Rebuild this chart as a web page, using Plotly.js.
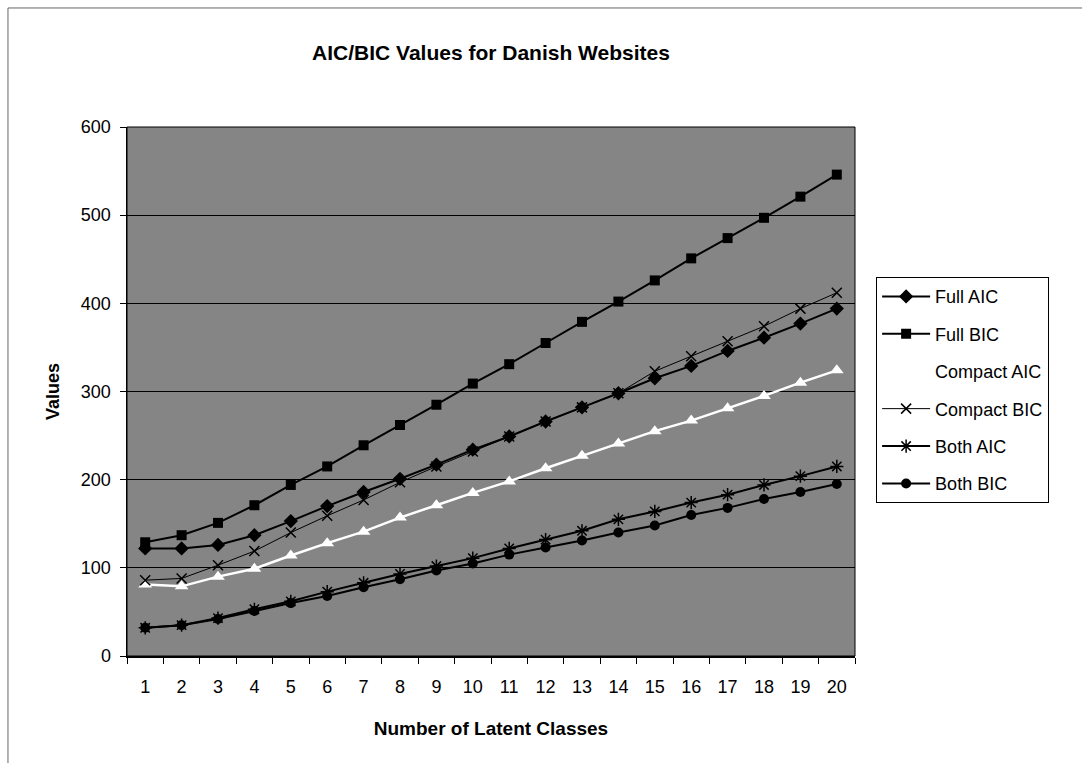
<!DOCTYPE html>
<html>
<head>
<meta charset="utf-8">
<script src="https://cdn.plot.ly/plotly-3.0.1.min.js"></script>
<style>
html,body{margin:0;padding:0;background:#fff;}
#chart{width:1082px;height:763px;}
</style>
</head>
<body>
<div id="chart"></div>
<script>
const classes = ["1","2","3","4","5","6","7","8","9","10","11","12","13","14","15","16","17","18","19","20"];
const fullAIC    = [122,122,126,137,153,170,186,201,217,234,249,266,282,298,315,329,346,361,377,394];
const fullBIC    = [129,137,151,171,194,215,239,262,285,309,331,355,379,402,426,451,474,497,521,546];
const compactAIC = [81,79,90,99,114,128,141,157,171,185,198,213,227,241,255,267,281,295,310,324];
const compactBIC = [86,88,103,119,140,159,177,197,215,232,249,266,282,298,323,340,357,374,394,412];
const bothAIC    = [32,35,43,53,62,73,83,93,102,111,122,132,142,155,164,174,183,194,204,215];
const bothBIC    = [32,35,42,51,60,68,78,87,97,105,115,123,131,140,148,160,168,178,186,195];
const seriesNames = ["Full AIC","Full BIC","Compact AIC","Compact BIC","Both AIC","Both BIC"];

const styles = [
  {color:'#000', width:2, symbol:'diamond', size:11},
  {color:'#000', width:2, symbol:'square', size:10},
  {color:'#fff', width:2.5, symbol:'triangle-up', size:12},
  {color:'#000', width:1, symbol:'x-thin-open', size:10},
  {color:'#000', width:2, symbol:'asterisk-open', size:11},
  {color:'#000', width:2, symbol:'circle', size:10}
];
const values = [fullAIC, fullBIC, compactAIC, compactBIC, bothAIC, bothBIC];

const traces = values.map((v,i)=>({
  type:'scatter', mode:'lines+markers',
  x: classes, y: v, name: seriesNames[i],
  legendgroup: 'g'+i,
  line:{color:styles[i].color, width:styles[i].width},
  marker:{symbol:styles[i].symbol, size:styles[i].size, color:styles[i].color,
          line:{color:styles[i].color, width: styles[i].symbol.indexOf('open')>=0 ? 1.5 : 0}}
}));

const F = 'Arial, "Liberation Sans", sans-serif';
const layout = {
  width:1082, height:763,
  paper_bgcolor:'#fff',
  plot_bgcolor:'#858585',
  margin:{l:127, r:227, t:127, b:107},
  font:{family:F, size:18, color:'#000'},
  title:{text:'<b>AIC/BIC Values for Danish Websites</b>', font:{family:F, size:21, color:'#000'},
         x:0.5, xref:'paper', xanchor:'center', y:0.941, yref:'container'},
  xaxis:{type:'category', range:[-0.5,19.5], showgrid:false, zeroline:false,
         showline:true, linecolor:'#000', linewidth:1.5,
         ticks:'outside', tickson:'boundaries', ticklen:6, tickcolor:'#000',
         tickfont:{family:F, size:18}, ticklabelstandoff:14,
         title:{text:'<b>Number of Latent Classes</b>', font:{family:F, size:19}, standoff:25}},
  yaxis:{range:[0,600], dtick:100, showgrid:true, gridcolor:'#000', gridwidth:1,
         zeroline:false, showline:true, linecolor:'#000', linewidth:1.5,
         ticks:'outside', ticklen:6, tickcolor:'#000',
         tickfont:{family:F, size:18}, ticklabelstandoff:5,
         title:{text:'<b>Values</b>', font:{family:F, size:18}, standoff:16}},
  legend:{x:1.029, y:0.716, xanchor:'left', yanchor:'top',
          bgcolor:'#fff', bordercolor:'#000', borderwidth:1,
          font:{family:F, size:18}, tracegroupgap:11, itemwidth:48},
  shapes:[
    {type:'line', xref:'paper', yref:'paper', x0:-0.1635, x1:1.32, y0:1.225, y1:1.225,
     line:{color:'#666', width:1}, layer:'below'},
    {type:'line', xref:'paper', yref:'paper', x0:-0.1635, x1:-0.1635, y0:-0.21, y1:1.225,
     line:{color:'#666', width:1}, layer:'below'},
    {type:'rect', xref:'paper', yref:'paper', x0:0, x1:1, y0:0, y1:1,
     line:{color:'#000', width:1}, fillcolor:'rgba(0,0,0,0)'}
  ],
  showlegend:true
};

Plotly.newPlot('chart', traces, layout, {staticPlot:true, displayModeBar:false});
</script>
</body>
</html>
